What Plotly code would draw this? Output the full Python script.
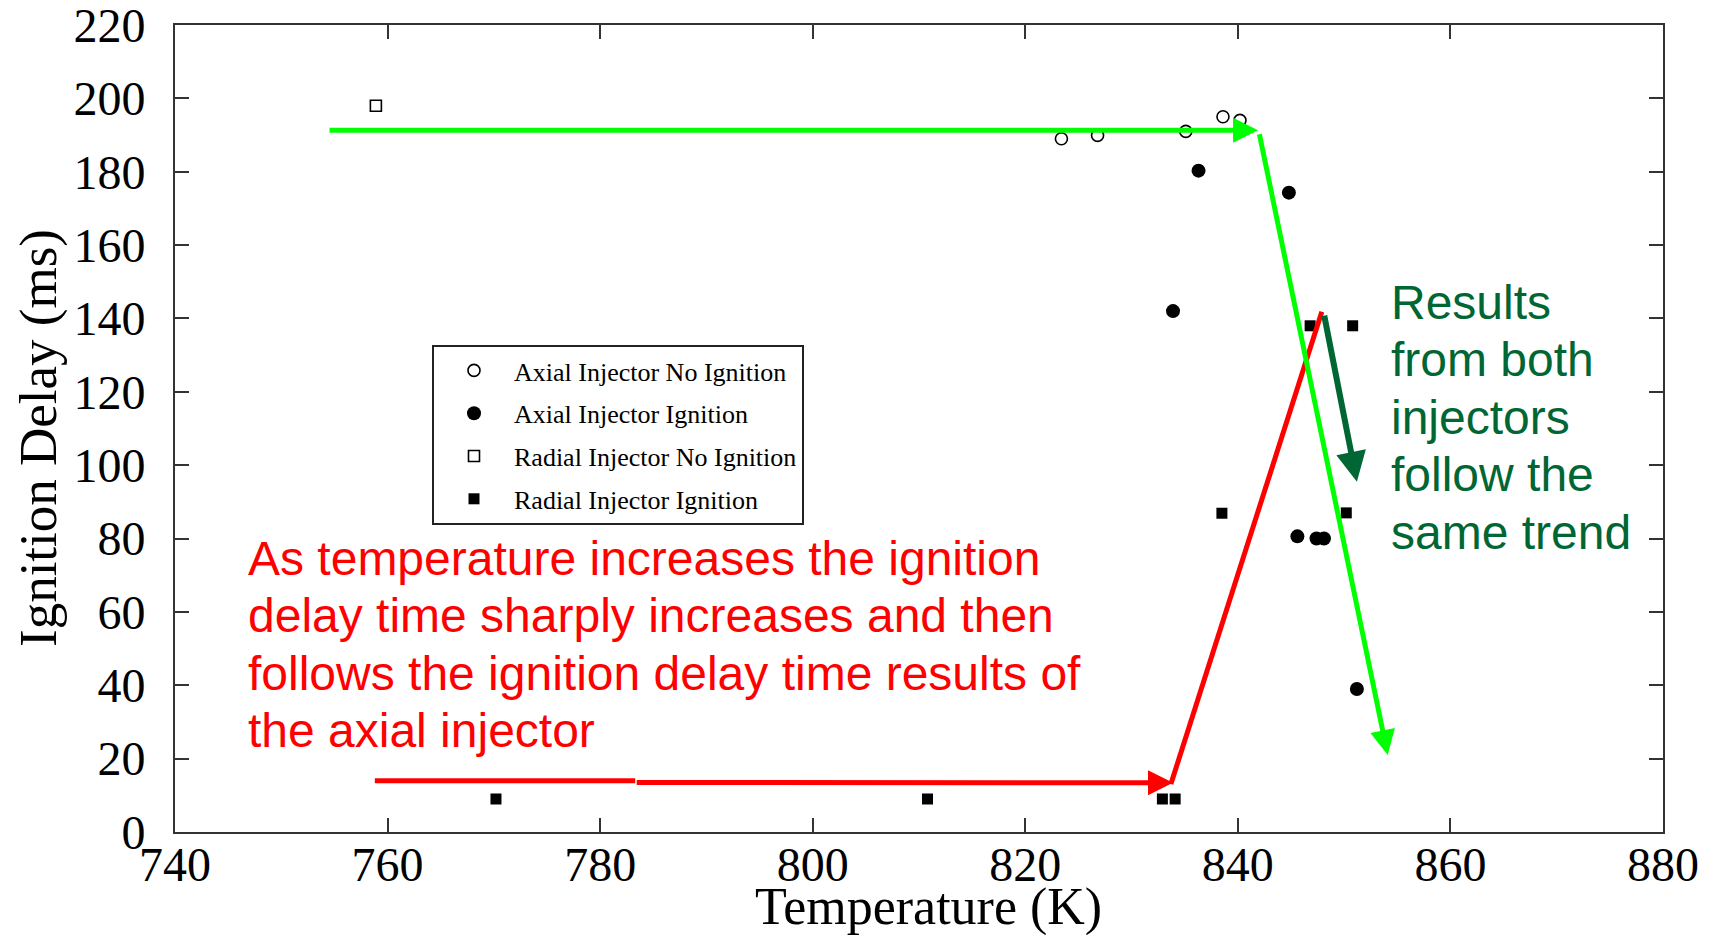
import plotly.graph_objects as go

# ---- data ----
axial_no_ign_T = [823.4, 826.8, 835.1, 838.6, 840.2]
axial_no_ign_D = [189.0, 189.9, 191.0, 195.0, 194.0]

axial_ign_T = [836.3, 844.8, 833.9, 845.6, 847.4, 848.1, 851.2]
axial_ign_D = [180.3, 174.3, 142.0, 80.6, 80.0, 80.0, 39.0]

radial_no_ign_T = [758.9]
radial_no_ign_D = [198.0]

radial_ign_T = [770.2, 810.8, 832.9, 834.1, 838.5, 846.8, 850.8, 850.2]
radial_ign_D = [9.0, 9.0, 9.0, 9.0, 86.9, 138.0, 138.0, 87.0]

x_ticks = [740, 760, 780, 800, 820, 840, 860, 880]
y_ticks = [0, 20, 40, 60, 80, 100, 120, 140, 160, 180, 200, 220]

x_title = "Temperature (K)"
y_title = "Ignition Delay (ms)"

# trend arrows (tail T, tail D, head T, head D)
green_h = [754.4, 191.3, 841.9, 191.3]
green_d = [842.0, 190.6, 854.1, 21.0]
red_h1 = [758.8, 14.0, 783.3, 14.0]
red_h2 = [783.3, 13.5, 833.9, 13.4]
red_d = [833.7, 13.1, 847.9, 141.8]
dkgreen = [848.1, 141.2, 851.2, 95.5]

red_text = [
    "As temperature increases the ignition",
    "delay time sharply increases and then",
    "follows the ignition delay time results of",
    "the axial injector",
]
green_text = ["Results", "from both", "injectors", "follow the", "same trend"]

# ---- layout geometry (pixels) ----
W, H = 1716, 938
L, R, T, B = 175, 53, 25, 106
PW, PH = W - L - R, H - T - B


def px(xp):
    return (xp - L) / PW


def py(yp):
    return (H - B - yp) / PH


SERIF = "Liberation Serif, Times New Roman, serif"
SANS = "Liberation Sans, Arial, sans-serif"

fig = go.Figure()
fig.add_trace(go.Scatter(
    x=axial_no_ign_T, y=axial_no_ign_D, mode="markers",
    name="Axial Injector No Ignition", legendgroup="a",
    marker=dict(symbol="circle-open", size=12, color="black", line=dict(width=1.6, color="black"))))
fig.add_trace(go.Scatter(
    x=axial_ign_T, y=axial_ign_D, mode="markers",
    name="Axial Injector Ignition", legendgroup="b",
    marker=dict(symbol="circle", size=14, color="black")))
fig.add_trace(go.Scatter(
    x=radial_no_ign_T, y=radial_no_ign_D, mode="markers",
    name="Radial Injector No Ignition", legendgroup="c",
    marker=dict(symbol="square-open", size=11, color="black", line=dict(width=1.6, color="black"))))
fig.add_trace(go.Scatter(
    x=radial_ign_T, y=radial_ign_D, mode="markers",
    name="Radial Injector Ignition", legendgroup="d",
    marker=dict(symbol="square", size=11, color="black")))

# plain segments (no heads)
for seg, col in [(red_h1, "#ff0000"), (red_d, "#ff0000")]:
    fig.add_trace(go.Scatter(x=[seg[0], seg[2]], y=[seg[1], seg[3]], mode="lines",
                             line=dict(color=col, width=5), showlegend=False, hoverinfo="skip"))

annotations = []
for seg, col, w in [(green_h, "#00ff00", 5), (green_d, "#00ff00", 5),
                    (red_h2, "#ff0000", 5), (dkgreen, "#006633", 6)]:
    annotations.append(dict(
        x=seg[2], y=seg[3], ax=seg[0], ay=seg[1], xref="x", yref="y", axref="x", ayref="y",
        text="", showarrow=True, arrowhead=2, arrowsize=1, arrowwidth=w, arrowcolor=col))

red_y = [558, 615, 673, 730]
for t, yy in zip(red_text, red_y):
    annotations.append(dict(x=px(246), y=py(yy), xref="paper", yref="paper", text=t,
                            showarrow=False, xanchor="left", yanchor="middle",
                            font=dict(family=SANS, size=48, color="#ff0000")))
green_y = [302, 359, 417, 474, 532]
for t, yy in zip(green_text, green_y):
    annotations.append(dict(x=px(1389), y=py(yy), xref="paper", yref="paper", text=t,
                            showarrow=False, xanchor="left", yanchor="middle",
                            font=dict(family=SANS, size=48, color="#006633")))

# axis titles
annotations.append(dict(x=px(928), y=py(907), xref="paper", yref="paper", text=x_title,
                        showarrow=False, xanchor="center", yanchor="middle",
                        font=dict(family=SERIF, size=52, color="black")))
annotations.append(dict(x=px(38), y=py(438), xref="paper", yref="paper", text=y_title,
                        showarrow=False, xanchor="center", yanchor="middle", textangle=-90,
                        font=dict(family=SERIF, size=53, color="black")))

axis_common = dict(
    showgrid=False, zeroline=False, showline=True, linecolor="#333333", linewidth=2,
    mirror="ticks", ticks="inside", ticklen=14, tickwidth=2, tickcolor="#333333",
    tickfont=dict(family=SERIF, size=48, color="black"), ticklabeloverflow="allow",
)

fig.update_layout(
    width=W, height=H,
    margin=dict(l=L, r=R, t=T, b=B, autoexpand=False),
    paper_bgcolor="white", plot_bgcolor="white",
    xaxis=dict(range=[740, 880], tickvals=x_ticks, ticktext=[str(v) for v in x_ticks],
               ticklabelstandoff=-11, **axis_common),
    yaxis=dict(range=[0, 220], tickvals=y_ticks, ticktext=[str(v) for v in y_ticks],
               ticklabelstandoff=18, **axis_common),
    showlegend=True,
    legend=dict(x=px(432), y=py(345), xanchor="left", yanchor="top",
                bordercolor="#222222", borderwidth=2, bgcolor="white",
                font=dict(family=SERIF, size=26, color="black"),
                itemwidth=70,
                traceorder="grouped", tracegroupgap=6),
    annotations=annotations,
)

fig.write_html("out.html")
